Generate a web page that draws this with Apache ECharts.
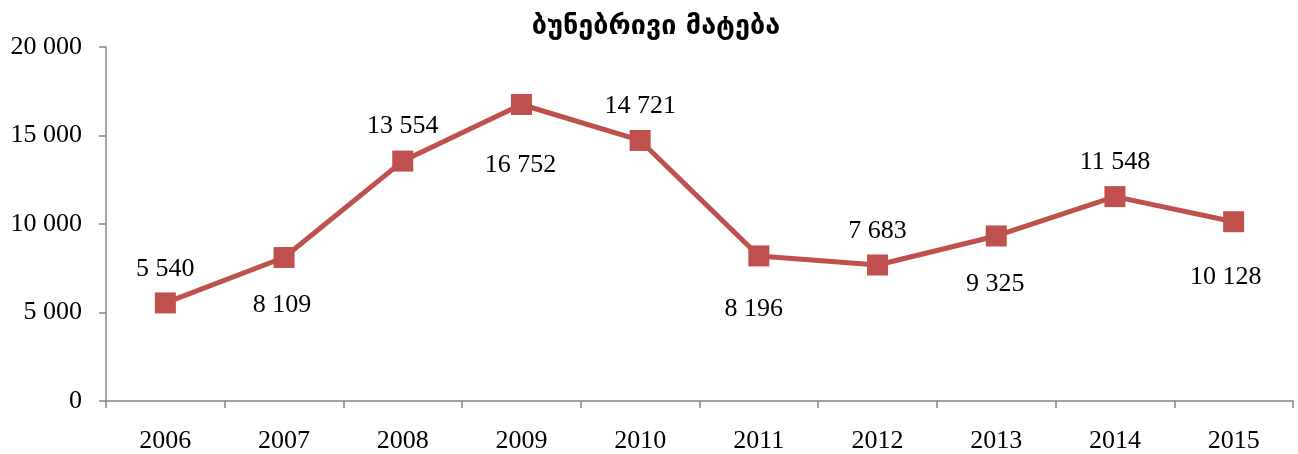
<!DOCTYPE html>
<html>
<head>
<meta charset="utf-8">
<script src="https://cdn.jsdelivr.net/npm/echarts@6/dist/echarts.min.js"></script>
<style>
  html, body { margin: 0; padding: 0; background: #fff; }
  #chart { width: 1298px; height: 454px; }
</style>
</head>
<body>
<div id="chart"></div>
<script>
// data
var years = ['2006', '2007', '2008', '2009', '2010', '2011', '2012', '2013', '2014', '2015'];
var increase = [5540, 8109, 13554, 16752, 14721, 8196, 7683, 9325, 11548, 10128];

// label placement (px from the marker centre), as in the original
var labelOffsets = [[0, -34], [-2, 48], [0, -35], [-1, 61], [0, -34], [-5, 53], [0, -34], [-1, 48], [0, -34], [-8, 55]];

var serif = '"Liberation Serif", "Times New Roman", serif';
var fmt = function (v) {
    return String(v).replace(/\B(?=(\d{3})+(?!\d))/g, ' ');
};

var chart = echarts.init(document.getElementById('chart'));

var option = {
    animation: false,
    title: {
        text: 'ბუნებრივი მატება',
        left: 651,
        textAlign: 'center',
        top: 8,
        textStyle: { fontFamily: '"DejaVu Sans", sans-serif', fontSize: 27, fontWeight: 'bold', color: '#000' }
    },
    grid: { left: 106, right: 5, top: 47, bottom: 53 },
    xAxis: {
        type: 'category',
        data: years,
        boundaryGap: true,
        axisLine: { lineStyle: { color: '#868686', width: 1.5 } },
        axisTick: { show: true, length: 7, lineStyle: { color: '#868686', width: 1.5 } },
        axisLabel: { fontFamily: serif, fontSize: 26, color: '#000', margin: 27 }
    },
    yAxis: {
        type: 'value',
        min: 0,
        max: 20000,
        interval: 5000,
        splitLine: { show: false },
        axisLine: { show: true, lineStyle: { color: '#868686', width: 1.5 } },
        axisTick: { show: true, length: 7, lineStyle: { color: '#868686', width: 1.5 } },
        axisLabel: { fontFamily: serif, fontSize: 26, color: '#000', margin: 24, formatter: fmt }
    },
    series: [{
        type: 'line',
        data: increase.map(function (v, i) {
            return {
                value: v,
                label: { offset: labelOffsets[i] }
            };
        }),
        symbol: 'rect',
        symbolSize: 21,
        lineStyle: { color: '#C0504D', width: 5 },
        itemStyle: { color: '#C0504D' },
        label: {
            show: true,
            position: 'inside',
            fontFamily: serif,
            fontSize: 26,
            color: '#000',
            formatter: function (p) { return fmt(p.value); }
        }
    }]
};

chart.setOption(option);
</script>
</body>
</html>
